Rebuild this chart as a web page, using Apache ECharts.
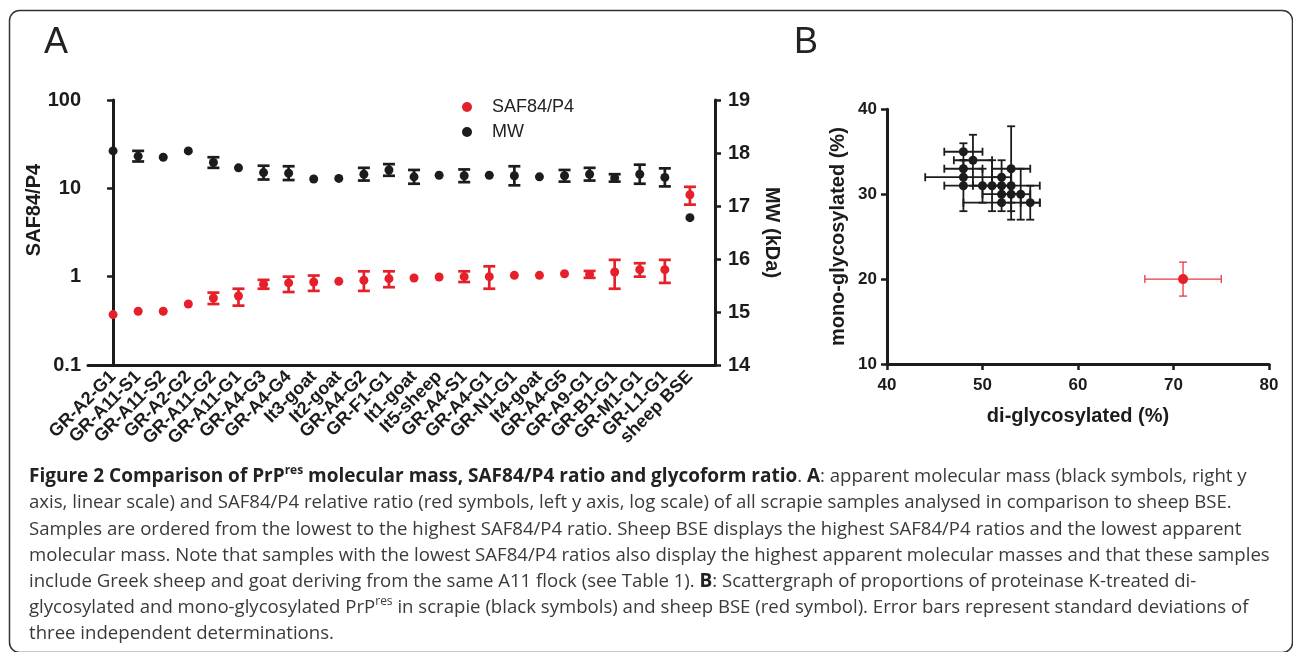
<!DOCTYPE html>
<html>
<head>
<meta charset="utf-8">
<title>Figure 2</title>
<script src="https://cdn.jsdelivr.net/npm/echarts@6.0.0/dist/echarts.min.js"></script>
<style>
html, body { margin: 0; padding: 0; background: #fff; }
#chart { width: 1293px; height: 652px; }
</style>
</head>
<body>
<div id="chart"></div>
<script>
// panel A: samples ordered by SAF84/P4 ratio
const samples = ['GR-A2-G1', 'GR-A11-S1', 'GR-A11-S2', 'GR-A2-G2', 'GR-A11-G2', 'GR-A11-G1',
  'GR-A4-G3', 'GR-A4-G4', 'It3-goat', 'It2-goat', 'GR-A4-G2', 'GR-F1-G1', 'It1-goat',
  'It5-sheep', 'GR-A4-S1', 'GR-A4-G1', 'GR-N1-G1', 'It4-goat', 'GR-A4-G5', 'GR-A9-G1',
  'GR-B1-G1', 'GR-M1-G1', 'GR-L1-G1', 'sheep BSE'];
const safRatio = [0.372, 0.406, 0.406, 0.491, 0.574, 0.604, 0.82, 0.85, 0.87, 0.885, 0.91, 0.95,
  0.965, 0.99, 1.0, 1.0, 1.035, 1.035, 1.08, 1.06, 1.13, 1.2, 1.2, 8.47];
const safLow = [null, null, null, null, 0.49, 0.47, 0.73, 0.67, 0.69, null, 0.69, 0.76,
  null, null, 0.87, 0.73, null, null, null, 0.97, 0.73, 1.0, 0.85, 6.54];
const safHigh = [null, null, null, null, 0.66, 0.73, 0.92, 1.0, 1.03, null, 1.15, 1.15,
  null, null, 1.15, 1.31, null, null, null, 1.16, 1.55, 1.42, 1.55, 10.4];
const mwKda = [18.04, 17.94, 17.92, 18.04, 17.82, 17.72, 17.63, 17.62, 17.51, 17.52, 17.6, 17.68,
  17.55, 17.58, 17.57, 17.58, 17.57, 17.55, 17.57, 17.6, 17.53, 17.6, 17.54, 16.78];
const mwSd = [0, 0.1, 0, 0, 0.1, 0, 0.13, 0.13, 0, 0, 0.12, 0.11,
  0.13, 0, 0.12, 0, 0.18, 0, 0.11, 0.12, 0.07, 0.18, 0.17, 0];
const safTicks = ['0.1', '1', '10', '100'];

// panel B: glycoform proportions (%)
const diGly = [48, 49, 48, 48, 48, 50, 51, 52, 52, 52, 52, 53, 53, 53, 54, 55];
const monoGly = [35, 34, 33, 32, 31, 31, 31, 32, 31, 30, 29, 33, 31, 30, 30, 29];
const diSd = [2, 2, 2, 4, 2, 1, 1, 1, 1, 2, 4, 2, 3, 1, 1, 1];
const monoSd = [1, 3, 1, 1, 3, 2, 3, 2, 1, 1, 1, 5, 2, 3, 3, 2];
const bseDi = [71];
const bseMono = [20];
const bseDiSd = [4];
const bseMonoSd = [2];

const RED = '#e5202a';
const BLACK = '#1c1c1c';
const FONT = '"Liberation Sans", Arial, sans-serif';
const CAP_FONT = '"Open Sans", Lato, sans-serif';

function vBar(color, lw, cap) {
  return function (params, api) {
    const x = api.value(0);
    const a = api.coord([x, api.value(1)]);
    const b = api.coord([x, api.value(2)]);
    const h = cap / 2;
    const style = { stroke: color, lineWidth: lw };
    return {
      type: 'group',
      children: [
        { type: 'line', shape: { x1: a[0], y1: a[1], x2: b[0], y2: b[1] }, style: style },
        { type: 'line', shape: { x1: a[0] - h, y1: a[1], x2: a[0] + h, y2: a[1] }, style: style },
        { type: 'line', shape: { x1: b[0] - h, y1: b[1], x2: b[0] + h, y2: b[1] }, style: style }
      ]
    };
  };
}

function crossBar(color, lw, cap) {
  return function (params, api) {
    const x = api.value(0), y = api.value(1), dx = api.value(2), dy = api.value(3);
    const l = api.coord([x - dx, y]);
    const r = api.coord([x + dx, y]);
    const t = api.coord([x, y + dy]);
    const b = api.coord([x, y - dy]);
    const h = cap / 2;
    const style = { stroke: color, lineWidth: lw };
    return {
      type: 'group',
      children: [
        { type: 'line', shape: { x1: l[0], y1: l[1], x2: r[0], y2: r[1] }, style: style },
        { type: 'line', shape: { x1: l[0], y1: l[1] - h, x2: l[0], y2: l[1] + h }, style: style },
        { type: 'line', shape: { x1: r[0], y1: r[1] - h, x2: r[0], y2: r[1] + h }, style: style },
        { type: 'line', shape: { x1: t[0], y1: t[1], x2: b[0], y2: b[1] }, style: style },
        { type: 'line', shape: { x1: t[0] - h, y1: t[1], x2: t[0] + h, y2: t[1] }, style: style },
        { type: 'line', shape: { x1: b[0] - h, y1: b[1], x2: b[0] + h, y2: b[1] }, style: style }
      ]
    };
  };
}

const safErrData = [];
samples.forEach((s, i) => {
  if (safLow[i] != null) safErrData.push([i, safLow[i], safHigh[i]]);
});
const mwErrData = [];
samples.forEach((s, i) => {
  if (mwSd[i] > 0) mwErrData.push([i, mwKda[i] - mwSd[i], mwKda[i] + mwSd[i]]);
});

const axisLineA = { show: true, lineStyle: { color: BLACK, width: 3 } };
const tickA = { show: true, length: 6, lineStyle: { color: BLACK, width: 2.5 } };

const captionLines = [
  '{b|Figure 2 Comparison of PrP}{bs|res}{b| molecular mass, SAF84/P4 ratio and glycoform ratio}. {b|A}: apparent molecular mass (black symbols, right y',
  'axis, linear scale) and SAF84/P4 relative ratio (red symbols, left y axis, log scale) of all scrapie samples analysed in comparison to sheep BSE.',
  'Samples are ordered from the lowest to the highest SAF84/P4 ratio. Sheep BSE displays the highest SAF84/P4 ratios and the lowest apparent',
  'molecular mass. Note that samples with the lowest SAF84/P4 ratios also display the highest apparent molecular masses and that these samples',
  'include Greek sheep and goat deriving from the same A11 flock (see Table 1). {b|B}: Scattergraph of proportions of proteinase K-treated di-',
  'glycosylated and mono-glycosylated PrP{s|res} in scrapie (black symbols) and sheep BSE (red symbol). Error bars represent standard deviations of',
  'three independent determinations.'
];

const CAP_SIZE = 18.6;
const CAP_BOLD = 19;
const graphics = [
  {
    type: 'rect', shape: { x: 9.5, y: 10.5, width: 1283, height: 642, r: 10 },
    style: { fill: 'none', stroke: '#333', lineWidth: 1.5 }, silent: true
  },
  { type: 'text', left: 44, top: 25, style: { text: 'A', font: '36px ' + FONT, fill: '#222' } },
  { type: 'text', left: 794, top: 25, style: { text: 'B', font: '36px ' + FONT, fill: '#222' } },
  {
    type: 'text', x: 34, y: 210, rotation: Math.PI / 2,
    style: { text: 'SAF84/P4', font: 'bold 20px ' + FONT, fill: BLACK, align: 'center', verticalAlign: 'middle' }
  }
];
captionLines.forEach((line, i) => {
  graphics.push({
    type: 'text',
    x: 29,
    y: 477 + i * 26.2,
    style: {
      text: line,
      fill: '#3a3a3a',
      fontFamily: CAP_FONT,
      fontSize: CAP_SIZE,
      verticalAlign: 'middle',
      lineHeight: 24,
      rich: {
        b: { fontWeight: 'bold', fontFamily: CAP_FONT, fontSize: CAP_BOLD, fill: '#222', lineHeight: 24 },
        bs: { fontWeight: 'bold', fontFamily: CAP_FONT, fontSize: 12, fill: '#222', verticalAlign: 'top', lineHeight: 24 },
        s: { fontFamily: CAP_FONT, fontSize: 12, fill: '#3a3a3a', verticalAlign: 'top', lineHeight: 24 }
      }
    }
  });
});

const chart = echarts.init(document.getElementById('chart'));
chart.setOption({
  animation: false,
  textStyle: { fontFamily: FONT },
  legend: {
    orient: 'vertical',
    left: 457,
    top: 92,
    itemWidth: 40,
    itemHeight: 10,
    itemGap: 5,
    textStyle: { fontSize: 18, color: '#222', fontFamily: FONT, lineHeight: 20 },
    data: [{ name: 'SAF84/P4', icon: 'circle' }, { name: 'MW', icon: 'circle' }]
  },
  grid: [
    { left: 88, top: 100, width: 627, height: 265 },
    { left: 887, top: 109.3, width: 382, height: 254.7 }
  ],
  xAxis: [
    {
      gridIndex: 0, type: 'value', min: -1, max: 24, interval: 1,
      axisLine: axisLineA, axisTick: { show: false }, splitLine: { show: false },
      axisLabel: {
        rotate: 45, margin: 9, fontSize: 18, fontWeight: 'bold', color: BLACK,
        formatter: function (v) { return samples[Math.round(v)] || ''; }
      }
    },
    {
      gridIndex: 1, type: 'value', min: 40, max: 80, interval: 10,
      axisLine: { show: true, lineStyle: { color: BLACK, width: 3 } },
      axisTick: { show: true, length: 6, lineStyle: { color: BLACK, width: 2.5 } },
      splitLine: { show: false },
      axisLabel: { margin: 13, fontSize: 17, fontWeight: 'bold', color: BLACK },
      name: 'di-glycosylated (%)', nameLocation: 'middle', nameGap: 42,
      nameTextStyle: { fontSize: 20, fontWeight: 'bold', color: BLACK }
    }
  ],
  yAxis: [
    {
      gridIndex: 0, type: 'log', logBase: 10, min: 0.1, max: 100,
      axisLine: axisLineA, axisTick: tickA, splitLine: { show: false }, minorTick: { show: false },
      axisLabel: {
        margin: 7, fontSize: 20, fontWeight: 'bold', color: BLACK,
        formatter: function (v) { return safTicks[Math.round(Math.log10(v)) + 1]; }
      }
    },
    {
      gridIndex: 0, type: 'value', position: 'right', min: 14, max: 19, interval: 1,
      axisLine: axisLineA, axisTick: tickA, splitLine: { show: false },
      axisLabel: { margin: 13, fontSize: 20, fontWeight: 'bold', color: BLACK },
      name: 'MW (kDa)', nameLocation: 'middle', nameGap: 47, nameRotate: -90,
      nameTextStyle: { fontSize: 20, fontWeight: 'bold', color: BLACK }
    },
    {
      gridIndex: 1, type: 'value', min: 10, max: 40, interval: 10,
      axisLine: { show: true, lineStyle: { color: BLACK, width: 3 } },
      axisTick: { show: true, length: 6, lineStyle: { color: BLACK, width: 2.5 } },
      splitLine: { show: false },
      axisLabel: { margin: 10, fontSize: 17, fontWeight: 'bold', color: BLACK },
      name: 'mono-glycosylated (%)', nameLocation: 'middle', nameGap: 39, nameRotate: 90,
      nameTextStyle: { fontSize: 20, fontWeight: 'bold', color: BLACK }
    }
  ],
  series: [
    {
      name: 'SAF84/P4 SD', type: 'custom', xAxisIndex: 0, yAxisIndex: 0,
      renderItem: vBar(RED, 2.7, 12), encode: { x: 0, y: [1, 2] }, data: safErrData, z: 2
    },
    {
      name: 'MW SD', type: 'custom', xAxisIndex: 0, yAxisIndex: 1,
      renderItem: vBar(BLACK, 2.7, 12), encode: { x: 0, y: [1, 2] }, data: mwErrData, z: 2
    },
    {
      name: 'SAF84/P4', type: 'scatter', xAxisIndex: 0, yAxisIndex: 0,
      symbolSize: 9, itemStyle: { color: RED, opacity: 1 }, z: 3,
      data: samples.map((s, i) => [i, safRatio[i]])
    },
    {
      name: 'MW', type: 'scatter', xAxisIndex: 0, yAxisIndex: 1,
      symbolSize: 9, itemStyle: { color: BLACK, opacity: 1 }, z: 3,
      data: samples.map((s, i) => [i, mwKda[i]])
    },
    {
      name: 'scrapie SD', type: 'custom', xAxisIndex: 1, yAxisIndex: 2,
      renderItem: crossBar(BLACK, 1.8, 8), encode: { x: 0, y: 1 }, z: 2,
      data: diGly.map((d, i) => [d, monoGly[i], diSd[i], monoSd[i]])
    },
    {
      name: 'BSE SD', type: 'custom', xAxisIndex: 1, yAxisIndex: 2,
      renderItem: crossBar('#e8393f', 1.3, 8), encode: { x: 0, y: 1 }, z: 2,
      data: bseDi.map((d, i) => [d, bseMono[i], bseDiSd[i], bseMonoSd[i]])
    },
    {
      name: 'scrapie', type: 'scatter', xAxisIndex: 1, yAxisIndex: 2,
      symbolSize: 9, itemStyle: { color: BLACK, opacity: 1 }, z: 3,
      data: diGly.map((d, i) => [d, monoGly[i]])
    },
    {
      name: 'sheep BSE', type: 'scatter', xAxisIndex: 1, yAxisIndex: 2,
      symbolSize: 10, itemStyle: { color: RED, opacity: 1 }, z: 3,
      data: bseDi.map((d, i) => [d, bseMono[i]])
    }
  ],
  graphic: graphics
});
</script>
</body>
</html>
